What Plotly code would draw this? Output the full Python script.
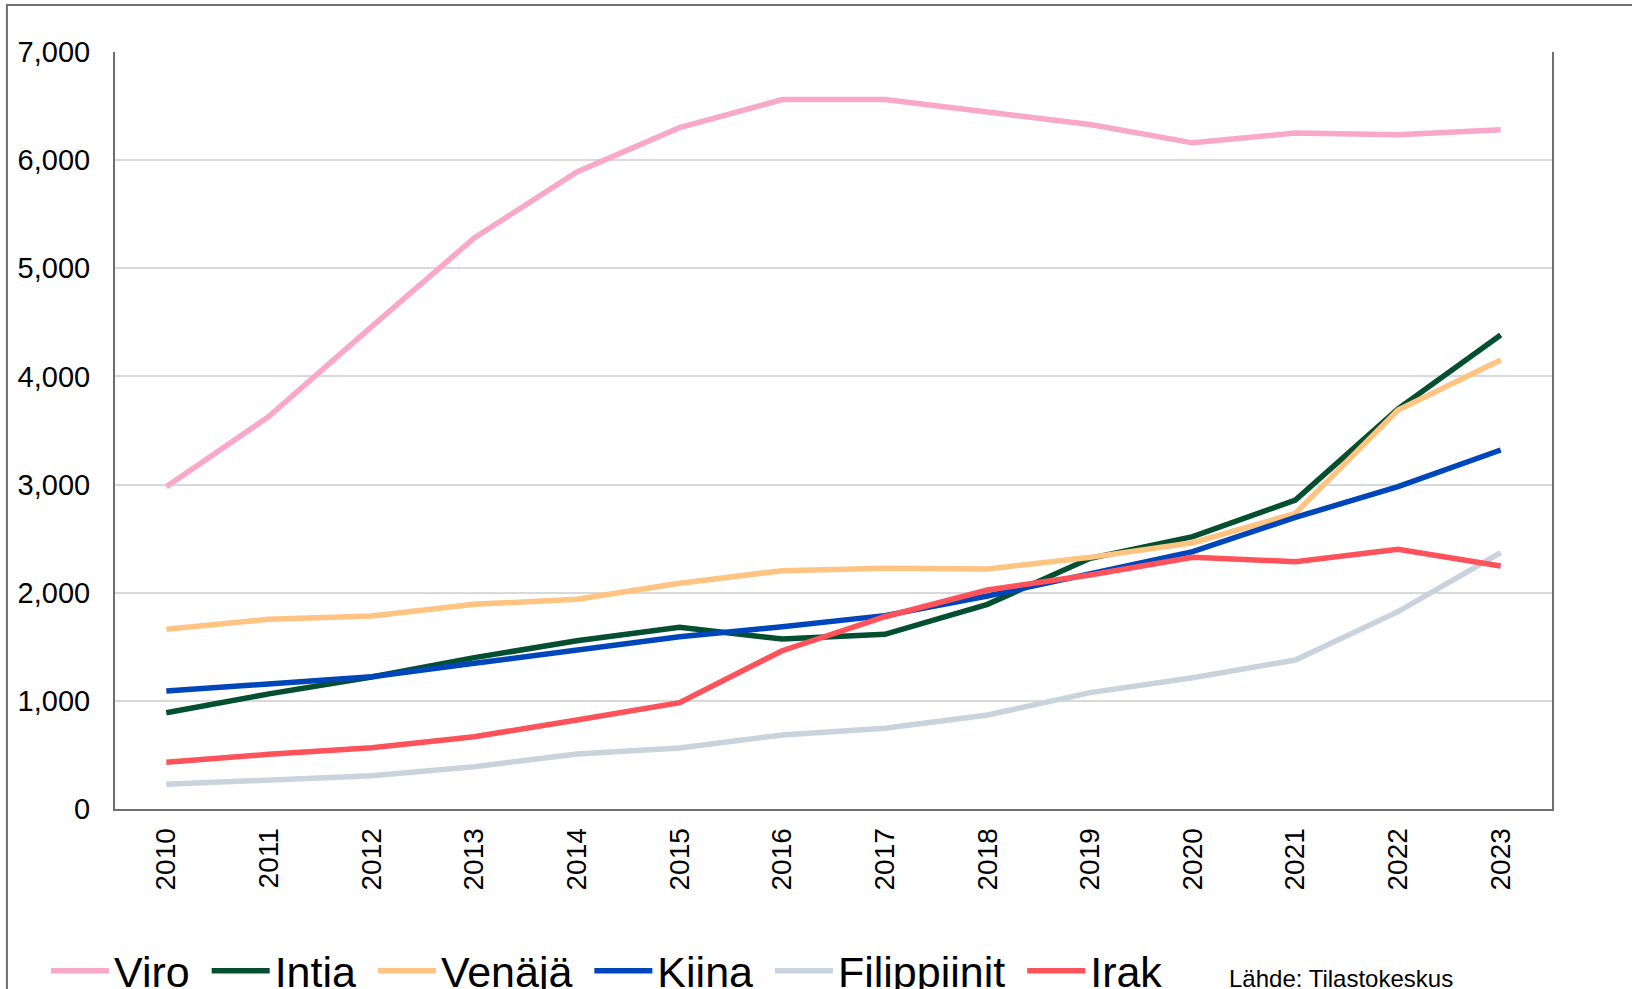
import plotly.graph_objects as go

# Ulkomaan kansalaiset Suomessa, kansalaisuuden mukaan (luvut luettu kuvasta)
years = [str(y) for y in range(2010, 2024)]

viro = [2980, 3630, 4460, 5280, 5890, 6300, 6560, 6560, 6445, 6330, 6160, 6250, 6235, 6280]
intia = [890, 1065, 1220, 1400, 1555, 1680, 1572, 1615, 1893, 2318, 2518, 2857, 3700, 4383]
venaja = [1662, 1754, 1785, 1893, 1939, 2087, 2204, 2226, 2219, 2327, 2462, 2734, 3690, 4152]
kiina = [1091, 1156, 1223, 1347, 1470, 1593, 1685, 1788, 1970, 2180, 2380, 2697, 2981, 3320]
filippiinit = [228, 268, 308, 391, 509, 564, 684, 746, 869, 1076, 1214, 1378, 1825, 2370]
irak = [432, 506, 567, 669, 823, 983, 1464, 1778, 2025, 2164, 2327, 2287, 2401, 2247]

series = [
    ("Viro", viro, "#F9A8C9"),
    ("Intia", intia, "#034F2F"),
    ("Venäjä", venaja, "#FFC482"),
    ("Kiina", kiina, "#0046BB"),
    ("Filippiinit", filippiinit, "#C9D3DD"),
    ("Irak", irak, "#FF525B"),
]

font_family = "Liberation Sans, Arial, sans-serif"

fig = go.Figure()
for name, vals, color in series:
    fig.add_trace(go.Scatter(
        x=years, y=vals,
        name=name + "\u00a0",  # hieman lisää väliä selitteen kohtien väliin
        mode="lines",
        line=dict(color=color, width=5.5),
    ))

fig.update_layout(
    width=1632, height=989,
    margin=dict(l=115, r=80, t=52, b=180, autoexpand=False),
    paper_bgcolor="white", plot_bgcolor="white",
    font=dict(family=font_family, color="black"),
    showlegend=True,
    legend=dict(
        orientation="h", x=-0.048, xanchor="left", y=-0.168, yanchor="top",
        font=dict(size=43, color="black"), itemwidth=58,
        bgcolor="rgba(0,0,0,0)", tracegroupgap=0,
    ),
)

fig.update_xaxes(
    type="category", range=[-0.5, len(years) - 0.5],
    showgrid=False, showline=True, linecolor="#6E6E6E", linewidth=2,
    ticks="", tickangle=-90, tickfont=dict(size=28, color="black"),
    ticklabelstandoff=6,
)
fig.update_yaxes(
    range=[0, 7000], dtick=1000, tickformat=",", showgrid=True,
    gridcolor="#D9D9D9", gridwidth=2, zeroline=False,
    showline=True, mirror=True, linecolor="#6E6E6E", linewidth=2,
    ticks="", tickfont=dict(size=29, color="black"), ticklabelstandoff=17,
)

# ulkokehys
fig.add_shape(type="rect", xref="paper", yref="paper",
              x0=-0.0752, x1=1.3, y0=-0.5, y1=1.062,
              line=dict(color="#6E6E6E", width=2), layer="below")

fig.add_annotation(
    text="Lähde: Tilastokeskus", xref="paper", yref="paper",
    x=0.7738, y=-0.2235, xanchor="left", yanchor="middle",
    showarrow=False, font=dict(size=24, color="black"),
)

# poistetaan selaimen oletusmarginaali, jotta kuva alkaa sivun kulmasta
fig.write_html("out.html", config={"displayModeBar": False},
               post_script="document.body.style.margin='0px';")
